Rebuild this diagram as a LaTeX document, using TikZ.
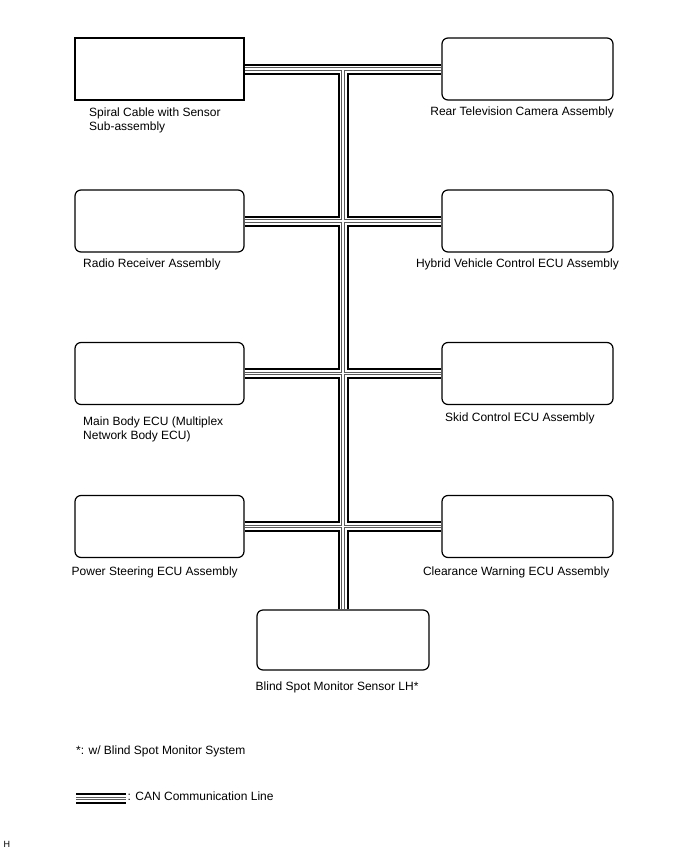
\documentclass[tikz,border=0pt]{standalone}
\usepackage{fontspec}
\setmainfont{Liberation Sans}
\usetikzlibrary{positioning}

\begin{document}
\begin{tikzpicture}[
  x=1pt, y=-1pt,
  font=\fontsize{12}{14}\selectfont,
  unit/.style={draw, line width=1.2pt, rounded corners=6pt, minimum width=169pt, minimum height=62pt, inner sep=0pt},
  lbl/.style={inner sep=0pt, align=left}
]
  \useasboundingbox (0,0) rectangle (688,852);

  % Left column
  \node[unit, sharp corners] (spiral) at (159.5,69) {};
  \node[unit] (radio) at (159.5,221) {};
  \node[unit] (mainbody) at (159.5,373.5) {};
  \node[unit] (steer) at (159.5,526.5) {};

  % Right column
  \node[unit, minimum width=171pt] (rear) at (527.5,69) {};
  \node[unit, minimum width=171pt] (hybrid) at (527.5,221) {};
  \node[unit, minimum width=171pt] (skid) at (527.5,373.5) {};
  \node[unit, minimum width=171pt] (clear) at (527.5,526.5) {};

  % Bottom sensor
  \node[unit, minimum width=172pt, minimum height=60pt] (bsm) at (343,640) {};
  \coordinate (top) at (bsm.north |- spiral.east);

  % Labels (base = last line)
  \node[lbl, anchor=base west] (spiral-t) at (89,130) {Spiral Cable with Sensor\\Sub-assembly};
  \node[lbl, anchor=base east] (rear-t) at (614,115) {Rear Television Camera Assembly};
  \node[lbl, anchor=base west] (radio-t) at (83,267) {Radio Receiver Assembly};
  \node[lbl, anchor=base east] (hybrid-t) at (619,267) {Hybrid Vehicle Control ECU Assembly};
  \node[lbl, anchor=base west] (mainbody-t) at (83,439) {Main Body ECU (Multiplex\\Network Body ECU)};
  \node[lbl, anchor=base west] (skid-t) at (445,421.5) {Skid Control ECU Assembly};
  \node[lbl, anchor=base west] (steer-t) at (71.5,575) {Power Steering ECU Assembly};
  \node[lbl, anchor=base east] (clear-t) at (609.5,575) {Clearance Warning ECU Assembly};
  \node[lbl, anchor=base west] (bsm-t) at (255.5,690) {Blind Spot Monitor Sensor LH*};

  % Notes
  \node[lbl, anchor=base west] (note) at (76,754) {*: w/ Blind Spot Monitor System};
  \coordinate (leg-a) at (76,798.5);
  \coordinate (leg-b) at (125.7,798.5);
  \node[lbl, anchor=base west] (leg-t) at (127.5,800) {: CAN Communication Line};
  \node[lbl, anchor=base west, font=\fontsize{9}{10}\selectfont] (code) at (3.3,847) {H};

  % CAN bus, drawn in layers
  \foreach \w/\c in {11/black, 7/white, 3.6/black!65, 1.2/white} {
    \draw[line width=\w pt, \c] (spiral) -- (rear) (radio) -- (hybrid)
      (mainbody) -- (skid) (steer) -- (clear) (top) -- (bsm)
      (leg-a) -- (leg-b);
  }
\end{tikzpicture}
\end{document}
